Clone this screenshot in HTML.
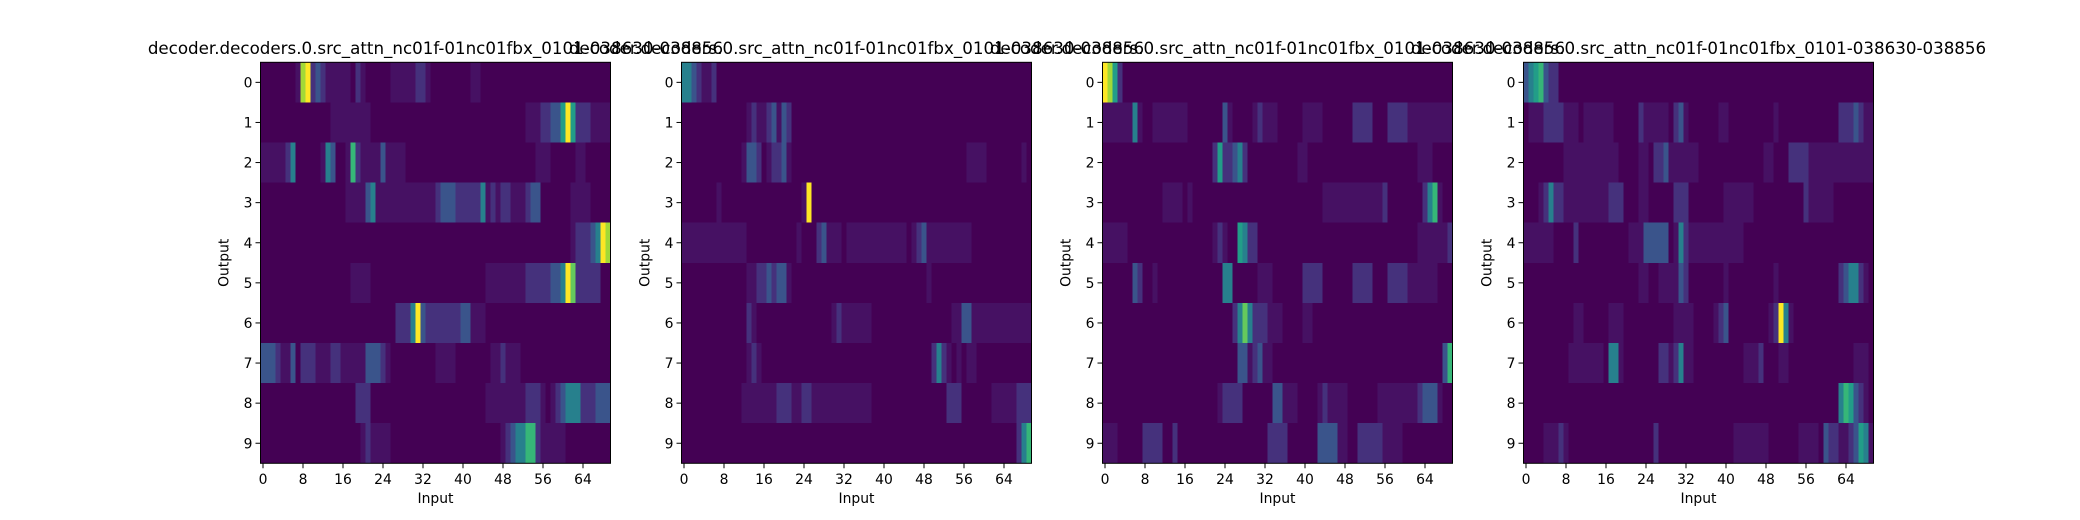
<!DOCTYPE html>
<html><head><meta charset="utf-8"><style>
html,body{margin:0;padding:0;background:#fff;}
svg{display:block;font-family:"DejaVu Sans","Liberation Sans",sans-serif;}
</style></head><body>
<svg id="fig" width="2080" height="520" viewBox="0 0 2080 520" xmlns="http://www.w3.org/2000/svg"></svg>
<script>
// runs: [row, colStart, colEnd, level(0-9)]
const panel1Runs = [[0,7,7,1],[0,8,8,8],[0,9,9,9],[0,10,10,2],[0,11,11,3],[0,12,12,2],[0,13,17,1],[0,19,19,2],[0,20,20,1],[0,26,30,1],[0,31,32,2],[0,33,33,1],[0,42,43,1],
[1,14,21,1],[1,53,55,1],[1,56,57,2],[1,58,59,3],[1,60,60,5],[1,61,61,9],[1,62,62,5],[1,63,65,2],[1,66,69,1],
[2,0,4,1],[2,5,5,2],[2,6,6,4],[2,12,12,1],[2,13,13,4],[2,14,14,3],[2,17,17,1],[2,18,18,6],[2,19,19,2],[2,20,23,1],[2,24,24,3],[2,25,28,1],[2,55,57,1],[2,63,64,1],
[3,17,20,1],[3,21,21,3],[3,22,22,4],[3,23,34,1],[3,35,35,2],[3,36,38,3],[3,39,43,2],[3,44,44,4],[3,45,45,1],[3,46,46,2],[3,47,47,1],[3,48,49,2],[3,50,52,1],[3,53,53,2],[3,54,55,3],[3,62,65,1],
[4,62,62,1],[4,63,65,2],[4,66,66,3],[4,67,67,4],[4,68,68,9],[4,69,69,8],
[5,18,21,1],[5,45,52,1],[5,53,57,2],[5,58,59,3],[5,60,60,4],[5,61,61,9],[5,62,62,7],[5,63,67,2],
[6,27,29,2],[6,30,30,4],[6,31,31,9],[6,32,32,3],[6,33,39,2],[6,40,41,3],[6,42,44,1],
[7,0,2,3],[7,3,3,2],[7,4,5,1],[7,6,6,3],[7,8,10,2],[7,11,13,1],[7,14,15,2],[7,16,20,1],[7,21,23,3],[7,24,24,2],[7,25,25,1],[7,35,38,1],[7,46,47,1],[7,48,48,2],[7,49,51,1],
[8,19,21,2],[8,45,52,1],[8,53,55,2],[8,56,56,1],[8,58,58,1],[8,59,59,2],[8,60,60,3],[8,61,63,4],[8,64,66,2],[8,67,69,3],
[9,20,20,1],[9,21,21,2],[9,22,25,1],[9,48,48,1],[9,49,49,2],[9,50,50,3],[9,51,52,4],[9,53,54,6],[9,55,55,2],[9,56,60,1]];
const panel2Runs = [[0,0,1,4],[0,2,2,3],[0,3,3,2],[0,4,5,1],[0,6,6,2],
[1,13,13,1],[1,14,14,2],[1,15,16,1],[1,17,17,2],[1,18,18,3],[1,19,19,1],[1,20,20,3],[1,21,21,2],
[2,12,12,1],[2,13,14,3],[2,15,15,2],[2,17,17,1],[2,18,19,2],[2,20,20,3],[2,21,21,1],[2,57,60,1],[2,68,68,1],
[3,7,7,1],[3,24,24,1],[3,25,25,9],
[4,0,12,1],[4,23,23,1],[4,27,27,2],[4,28,28,3],[4,29,31,1],[4,33,44,1],[4,46,46,1],[4,47,47,2],[4,48,48,3],[4,49,57,1],
[5,13,14,1],[5,15,16,2],[5,17,17,3],[5,18,18,2],[5,19,20,3],[5,21,21,1],[5,49,49,1],
[6,13,13,2],[6,14,14,1],[6,30,30,1],[6,31,31,2],[6,32,37,1],[6,54,55,1],[6,56,57,3],[6,58,69,1],
[7,13,13,1],[7,14,14,2],[7,15,15,1],[7,50,50,2],[7,51,51,4],[7,52,52,2],[7,53,53,1],[7,55,55,1],[7,57,58,1],
[8,12,18,1],[8,19,21,2],[8,22,23,1],[8,24,25,2],[8,26,37,1],[8,53,55,2],[8,62,66,1],[8,67,69,2],
[9,67,67,2],[9,68,68,4],[9,69,69,6]];
const panel3Runs = [[0,0,0,9],[0,1,1,8],[0,2,2,5],[0,3,3,2],
[1,0,5,1],[1,6,6,4],[1,7,7,1],[1,10,16,1],[1,24,24,3],[1,25,25,1],[1,30,30,1],[1,31,31,2],[1,32,34,1],[1,40,43,1],[1,50,53,2],[1,57,60,2],[1,61,69,1],
[2,22,22,2],[2,23,23,5],[2,24,25,2],[2,26,26,3],[2,27,27,4],[2,28,28,2],[2,39,40,1],[2,63,65,1],
[3,12,15,1],[3,17,17,1],[3,44,55,1],[3,56,56,2],[3,64,64,2],[3,65,65,4],[3,66,66,6],[3,67,67,1],
[4,0,4,1],[4,22,22,1],[4,23,23,2],[4,24,24,1],[4,27,27,5],[4,28,28,4],[4,29,30,2],[4,63,68,1],[4,69,69,2],
[5,6,6,3],[5,7,7,2],[5,10,10,1],[5,24,25,4],[5,31,33,1],[5,40,43,2],[5,50,53,2],[5,57,60,2],[5,61,66,1],
[6,26,26,2],[6,27,27,4],[6,28,28,7],[6,29,29,4],[6,30,32,2],[6,33,35,1],[6,40,41,1],
[7,27,28,3],[7,29,29,1],[7,30,30,2],[7,31,31,3],[7,32,33,1],[7,68,68,3],[7,69,69,6],
[8,23,23,1],[8,24,26,2],[8,27,27,2],[8,34,35,3],[8,36,38,1],[8,43,43,1],[8,44,44,2],[8,45,48,1],[8,55,62,1],[8,63,63,2],[8,64,66,3],[8,67,67,1],
[9,0,2,1],[9,8,11,2],[9,14,14,2],[9,33,36,2],[9,43,46,3],[9,47,48,1],[9,51,55,2],[9,56,59,1]];
const panel4Runs = [[0,0,0,3],[0,1,1,4],[0,2,2,5],[0,3,3,6],[0,4,4,3],[0,5,6,2],
[1,1,3,1],[1,4,7,2],[1,8,10,1],[1,12,17,1],[1,23,23,2],[1,24,28,1],[1,30,30,2],[1,31,31,3],[1,32,32,1],[1,39,40,1],[1,50,50,1],[1,63,65,2],[1,66,66,3],[1,67,67,2],[1,68,69,1],
[2,8,18,1],[2,23,24,1],[2,26,27,2],[2,28,28,3],[2,29,34,1],[2,48,49,1],[2,53,56,2],[2,57,69,1],
[3,3,3,1],[3,4,4,2],[3,5,5,4],[3,6,7,2],[3,8,16,1],[3,17,19,2],[3,23,24,1],[3,30,32,2],[3,40,45,1],[3,56,56,2],[3,57,61,1],
[4,0,5,1],[4,10,10,2],[4,21,23,1],[4,24,28,3],[4,30,30,1],[4,31,31,4],[4,32,32,2],[4,33,43,1],
[5,23,24,1],[5,27,30,1],[5,31,31,3],[5,32,32,2],[5,40,40,1],[5,50,50,1],[5,63,63,2],[5,64,64,3],[5,65,66,4],[5,67,67,2],[5,68,68,1],
[6,10,11,1],[6,17,19,1],[6,30,33,1],[6,38,38,1],[6,39,39,2],[6,40,40,3],[6,49,49,1],[6,50,50,2],[6,51,51,9],[6,52,52,4],[6,53,53,1],
[7,9,15,1],[7,17,18,4],[7,19,19,1],[7,27,28,2],[7,29,29,1],[7,30,30,2],[7,31,31,4],[7,32,33,1],[7,44,46,1],[7,47,47,2],[7,51,52,1],[7,66,68,1],
[8,63,63,4],[8,64,64,6],[8,65,65,5],[8,66,66,3],[8,67,67,2],[8,68,68,1],
[9,4,6,1],[9,7,7,2],[9,8,8,1],[9,26,26,2],[9,42,48,1],[9,55,58,1],[9,60,60,3],[9,61,62,2],[9,63,64,1],[9,65,65,2],[9,66,66,3],[9,67,67,5],[9,68,68,4],[9,69,69,1]];
const allPanels = [panel1Runs, panel2Runs, panel3Runs, panel4Runs];
const nRows = 10;
const nCols = 70;
const yTickLabels = ["0","1","2","3","4","5","6","7","8","9"];
const xTickLabels = ["0","8","16","24","32","40","48","56","64"];
const titleText = "decoder.decoders.0.src_attn_nc01f-01nc01fbx_0101-038630-038856";

const NS = "http://www.w3.org/2000/svg";
const svg = document.getElementById("fig");
const stops = ["#440154","#482475","#414487","#355f8d","#2a788e","#21918c","#22a884","#44bf70","#7ad151","#bddf26","#fde725"];
const levelToT = [0,0.045,0.14,0.26,0.43,0.55,0.66,0.76,0.86,1.0];
function hex(h){return [1,3,5].map(i=>parseInt(h.substr(i,2),16));}
function viridis(t){
  t=Math.max(0,Math.min(1,t));const s=t*10,i=Math.min(9,Math.floor(s)),f=s-i;
  const a=hex(stops[i]),b=hex(stops[i+1]);
  return "rgb("+a.map((v,k)=>Math.round(v+(b[k]-v)*f)).join(",")+")";
}
function colorFor(level){const lo=Math.floor(level),hi=Math.min(9,lo+1),f=level-lo;return viridis(levelToT[lo]+(levelToT[hi]-levelToT[lo])*f);}
function mk(tag,attrs,parent){const e=document.createElementNS(NS,tag);for(const k in attrs)e.setAttribute(k,attrs[k]);(parent||svg).appendChild(e);return e;}
const AX_TOP=62.3, AX_H=401, AX_W=350;
function axLeft(p){return 260.5+421*p;}
function xScale(p,c){return axLeft(p)+c*AX_W/nCols;}
function yScale(r){return AX_TOP+r*AX_H/nRows;}

allPanels.forEach((runs,p)=>{
  const g=mk("g",{});
  
  
  const grid=[];for(let r=0;r<nRows;r++)grid.push(new Array(nCols).fill(0));
  runs.forEach(([r,c0,c1,v])=>{for(let c=c0;c<=c1;c++)grid[r][c]=v;});
  for(let r=0;r<nRows;r++)for(let c=0;c<nCols;c++){
    const x0=xScale(p,c),x1=xScale(p,c+1),y0=yScale(r),y1=yScale(r+1);
    const cell=mk("rect",{x:x0,y:y0,width:x1-x0+0.4,height:y1-y0+0.4,fill:colorFor(grid[r][c]),"shape-rendering":"crispEdges"},g);
    
    
  }
  const frame=mk("rect",{x:axLeft(p),y:AX_TOP,width:AX_W,height:AX_H,fill:"none",stroke:"#000","stroke-width":1},g);
  
  
  yTickLabels.forEach((lab,i)=>{
    const y=yScale(i+0.5);
    mk("line",{x1:axLeft(p)-5,x2:axLeft(p),y1:y,y2:y,stroke:"#000","stroke-width":1},g);
    const t=mk("text",{x:axLeft(p)-8,y:y+5,"text-anchor":"end","font-size":"13.9px",fill:"#000"},g);
    t.textContent=lab;
    
    
  });
  xTickLabels.forEach(lab=>{
    const x=xScale(p,+lab+0.5);
    mk("line",{x1:x,x2:x,y1:AX_TOP+AX_H,y2:AX_TOP+AX_H+5,stroke:"#000","stroke-width":1},g);
    const t=mk("text",{x:x,y:484,"text-anchor":"middle","font-size":"13.9px",fill:"#000"},g);
    t.textContent=lab;
    
    
  });
  const xl=mk("text",{x:axLeft(p)+AX_W/2,y:503,"text-anchor":"middle","font-size":"13.9px",fill:"#000"},g);
  xl.textContent="Input";
  
  
  const yl=mk("text",{x:0,y:0,"text-anchor":"middle","font-size":"13.9px",fill:"#000",transform:"translate("+(axLeft(p)-32)+","+(AX_TOP+AX_H/2)+") rotate(-90)"},g);
  yl.textContent="Output";
  
  
});
allPanels.forEach((runs,p)=>{
  const tt=mk("text",{x:axLeft(p)+AX_W/2,y:54,"text-anchor":"middle","font-size":"16.7px",fill:"#000"});
  tt.textContent=titleText;
  
  
});
</script>
</body></html>
